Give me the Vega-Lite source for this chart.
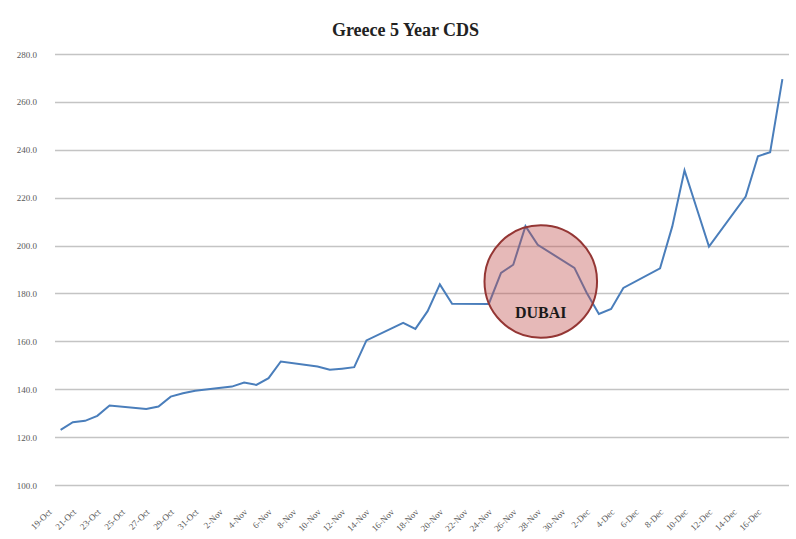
{
  "$schema": "https://vega.github.io/schema/vega-lite/v6.json",
  "autosize": {"type": "none"},
  "width": 734,
  "height": 431,
  "padding": {"left": 54.5, "top": 54, "right": 7.5, "bottom": 54},
  "background": "white",
  "config": {"view": {"stroke": null}},
  "title": {
    "text": "Greece 5 Year CDS",
    "font": "Liberation Serif",
    "fontSize": 18,
    "fontWeight": "bold",
    "color": "#222222",
    "anchor": "middle",
    "offset": 10,
    "dx": -16
  },
  "datasets": {
    "cds": [
      {"date": "2009/10/19", "value": 123.0},
      {"date": "2009/10/20", "value": 126.2},
      {"date": "2009/10/21", "value": 126.8},
      {"date": "2009/10/22", "value": 128.9},
      {"date": "2009/10/23", "value": 133.2},
      {"date": "2009/10/26", "value": 131.7},
      {"date": "2009/10/27", "value": 132.8},
      {"date": "2009/10/28", "value": 136.9},
      {"date": "2009/10/29", "value": 138.3},
      {"date": "2009/10/30", "value": 139.4},
      {"date": "2009/11/02", "value": 141.1},
      {"date": "2009/11/03", "value": 142.8},
      {"date": "2009/11/04", "value": 141.8},
      {"date": "2009/11/05", "value": 144.6},
      {"date": "2009/11/06", "value": 151.6},
      {"date": "2009/11/09", "value": 149.5},
      {"date": "2009/11/10", "value": 148.1},
      {"date": "2009/11/11", "value": 148.6},
      {"date": "2009/11/12", "value": 149.2},
      {"date": "2009/11/13", "value": 160.4},
      {"date": "2009/11/16", "value": 167.7},
      {"date": "2009/11/17", "value": 165.2},
      {"date": "2009/11/18", "value": 172.6},
      {"date": "2009/11/19", "value": 183.8},
      {"date": "2009/11/20", "value": 175.7},
      {"date": "2009/11/23", "value": 175.6},
      {"date": "2009/11/24", "value": 188.6},
      {"date": "2009/11/25", "value": 192.0},
      {"date": "2009/11/26", "value": 208.1},
      {"date": "2009/11/27", "value": 200.3},
      {"date": "2009/11/30", "value": 190.7},
      {"date": "2009/12/01", "value": 180.3},
      {"date": "2009/12/02", "value": 171.4},
      {"date": "2009/12/03", "value": 173.5},
      {"date": "2009/12/04", "value": 182.3},
      {"date": "2009/12/07", "value": 190.5},
      {"date": "2009/12/08", "value": 208.0},
      {"date": "2009/12/09", "value": 231.4},
      {"date": "2009/12/10", "value": 215.5},
      {"date": "2009/12/11", "value": 199.6},
      {"date": "2009/12/14", "value": 220.5},
      {"date": "2009/12/15", "value": 237.3},
      {"date": "2009/12/16", "value": 239.0},
      {"date": "2009/12/17", "value": 269.5}
    ],
    "note": [
      {"date": "2009/11/27 06:00", "value": 185.0, "textValue": 169.6, "label": "DUBAI"}
    ]
  },
  "encoding": {
    "x": {
      "field": "date",
      "type": "temporal",
      "title": null,
      "scale": {
        "domain": [
          {"year": 2009, "month": 10, "date": 18, "hours": 12},
          {"year": 2009, "month": 12, "date": 17, "hours": 12}
        ]
      },
      "axis": {
        "values": [
          {"year": 2009, "month": 10, "date": 19},
          {"year": 2009, "month": 10, "date": 21},
          {"year": 2009, "month": 10, "date": 23},
          {"year": 2009, "month": 10, "date": 25},
          {"year": 2009, "month": 10, "date": 27},
          {"year": 2009, "month": 10, "date": 29},
          {"year": 2009, "month": 10, "date": 31},
          {"year": 2009, "month": 11, "date": 2},
          {"year": 2009, "month": 11, "date": 4},
          {"year": 2009, "month": 11, "date": 6},
          {"year": 2009, "month": 11, "date": 8},
          {"year": 2009, "month": 11, "date": 10},
          {"year": 2009, "month": 11, "date": 12},
          {"year": 2009, "month": 11, "date": 14},
          {"year": 2009, "month": 11, "date": 16},
          {"year": 2009, "month": 11, "date": 18},
          {"year": 2009, "month": 11, "date": 20},
          {"year": 2009, "month": 11, "date": 22},
          {"year": 2009, "month": 11, "date": 24},
          {"year": 2009, "month": 11, "date": 26},
          {"year": 2009, "month": 11, "date": 28},
          {"year": 2009, "month": 11, "date": 30},
          {"year": 2009, "month": 12, "date": 2},
          {"year": 2009, "month": 12, "date": 4},
          {"year": 2009, "month": 12, "date": 6},
          {"year": 2009, "month": 12, "date": 8},
          {"year": 2009, "month": 12, "date": 10},
          {"year": 2009, "month": 12, "date": 12},
          {"year": 2009, "month": 12, "date": 14},
          {"year": 2009, "month": 12, "date": 16}
        ],
        "format": "%-d-%b",
        "labelAngle": -45,
        "labelAlign": "right",
        "labelBaseline": "middle",
        "labelPadding": 25,
        "labelOffset": -11,
        "labelFont": "Liberation Serif",
        "labelFontSize": 9,
        "labelColor": "#595959",
        "labelOverlap": false,
        "labelBound": false,
        "labelFlush": false,
        "ticks": false,
        "domain": false,
        "grid": false
      }
    }
  },
  "layer": [
    {
      "data": {"name": "cds"},
      "mark": {"type": "line", "color": "#4a7ebb", "strokeWidth": 2},
      "encoding": {
        "y": {
          "field": "value",
          "type": "quantitative",
          "title": null,
          "scale": {"domain": [100, 280], "nice": false, "zero": false},
          "axis": {
            "values": [100, 120, 140, 160, 180, 200, 220, 240, 260, 280],
            "format": ".1f",
            "labelFont": "Liberation Serif",
            "labelFontSize": 9,
            "labelColor": "#595959",
            "labelPadding": 18,
            "ticks": false,
            "domain": false,
            "grid": true,
            "gridColor": "#c4c4c4",
            "gridWidth": 1.5
          }
        }
      }
    },
    {
      "data": {"name": "note"},
      "mark": {
        "type": "point",
        "shape": "circle",
        "filled": true,
        "size": 12668,
        "fill": "#c0504d",
        "fillOpacity": 0.4,
        "stroke": "#943634",
        "strokeWidth": 2,
        "strokeOpacity": 1,
        "opacity": 1
      },
      "encoding": {
        "y": {"field": "value", "type": "quantitative"}
      }
    },
    {
      "data": {"name": "note"},
      "mark": {
        "type": "text",
        "font": "Liberation Serif",
        "fontSize": 16,
        "fontWeight": "bold",
        "color": "#1a1a1a",
        "align": "center",
        "baseline": "alphabetic"
      },
      "encoding": {
        "y": {"field": "textValue", "type": "quantitative"},
        "text": {"field": "label"}
      }
    }
  ]
}
